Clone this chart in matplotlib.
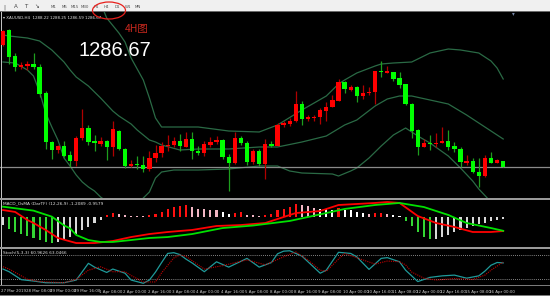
import matplotlib
matplotlib.use('Agg')
import matplotlib.pyplot as plt
from matplotlib.patches import Ellipse, Rectangle
from matplotlib.transforms import blended_transform_factory

# ---- XAUUSD H4 candles (27 Mar 16:00 .. 16 Apr 08:00) ----
opens = [1317.17, 1320.92, 1314.42, 1311.67, 1311.80, 1312.42, 1311.55, 1305.17, 1292.92, 1290.92,
         1291.92, 1289.55, 1288.05, 1293.80, 1296.42, 1293.05, 1292.42, 1293.17, 1291.55, 1295.67,
         1291.17, 1286.92, 1287.42, 1287.17, 1286.05, 1288.92, 1290.10, 1291.85, 1292.17, 1293.25,
         1291.75, 1293.67, 1290.60, 1290.10, 1292.25, 1293.00, 1293.42, 1289.25, 1287.67, 1293.85,
         1292.67, 1287.85, 1290.75, 1287.42, 1292.42, 1292.00, 1297.17, 1297.42, 1298.10, 1302.42,
         1298.67, 1298.85, 1299.10, 1300.75, 1301.75, 1303.25, 1307.85, 1305.92, 1306.75, 1304.35,
         1305.10, 1305.50, 1310.75, 1310.25, 1310.42, 1308.85, 1307.35, 1302.42, 1295.92, 1291.75,
         1292.75, 1292.42, 1292.75, 1293.17, 1291.92, 1291.17, 1287.60, 1288.17, 1285.35, 1284.42,
         1288.85, 1287.75, 1288.22]
highs = [1320.92, 1321.17, 1315.17, 1312.92, 1313.17, 1315.17, 1312.42, 1305.67, 1293.17, 1292.17,
         1293.17, 1290.67, 1294.30, 1301.17, 1297.17, 1294.67, 1294.17, 1293.42, 1298.17, 1295.92,
         1291.42, 1288.30, 1289.42, 1289.42, 1290.67, 1292.05, 1292.92, 1294.67, 1294.25, 1294.92,
         1295.30, 1295.30, 1291.92, 1293.25, 1294.17, 1294.50, 1293.67, 1289.92, 1295.35, 1294.50,
         1293.25, 1291.17, 1291.17, 1293.67, 1293.17, 1297.60, 1298.25, 1298.92, 1305.60, 1303.10,
         1299.75, 1299.75, 1301.42, 1302.85, 1304.75, 1308.67, 1308.25, 1307.25, 1307.00, 1307.25,
         1306.75, 1310.75, 1313.25, 1311.80, 1310.50, 1310.50, 1307.42, 1302.60, 1296.10, 1293.60,
         1294.67, 1295.10, 1296.60, 1295.92, 1292.99, 1291.75, 1289.67, 1288.85, 1288.85, 1289.67,
         1290.35, 1288.67, 1288.25]
lows = [1316.92, 1312.42, 1310.67, 1311.17, 1310.92, 1311.17, 1304.17, 1291.17, 1288.67, 1290.17,
        1289.17, 1286.67, 1286.92, 1293.42, 1292.17, 1290.67, 1291.92, 1288.30, 1289.42, 1290.92,
        1286.42, 1286.55, 1286.17, 1285.42, 1285.67, 1287.92, 1289.17, 1290.67, 1291.75, 1290.75,
        1291.55, 1288.67, 1289.67, 1289.50, 1291.67, 1292.42, 1288.67, 1280.67, 1287.42, 1292.17,
        1287.25, 1287.42, 1287.00, 1283.67, 1291.67, 1291.92, 1296.60, 1297.00, 1297.85, 1297.25,
        1298.25, 1298.10, 1297.42, 1298.10, 1301.67, 1303.17, 1305.10, 1305.67, 1302.85, 1303.67,
        1304.67, 1302.42, 1309.25, 1310.17, 1308.25, 1306.50, 1302.17, 1293.85, 1289.67, 1291.67,
        1290.92, 1291.60, 1292.67, 1290.92, 1290.50, 1286.75, 1287.17, 1285.10, 1281.75, 1284.17,
        1287.67, 1287.55, 1286.59]
closes = [1320.67, 1314.17, 1311.67, 1312.05, 1312.42, 1311.67, 1304.92, 1292.92, 1290.92, 1291.92,
          1289.42, 1288.05, 1293.92, 1296.42, 1292.80, 1292.55, 1293.17, 1291.55, 1296.17, 1291.17,
          1286.92, 1287.42, 1287.17, 1286.17, 1288.92, 1290.17, 1292.00, 1292.17, 1293.25, 1291.80,
          1293.67, 1290.55, 1290.10, 1292.42, 1293.00, 1293.42, 1289.25, 1287.67, 1293.92, 1292.60,
          1287.85, 1290.75, 1287.42, 1292.42, 1292.00, 1297.17, 1297.60, 1298.10, 1302.42, 1298.67,
          1299.25, 1299.10, 1300.92, 1301.75, 1303.42, 1308.00, 1306.17, 1306.60, 1304.35, 1305.17,
          1305.50, 1310.60, 1310.35, 1310.50, 1308.67, 1307.17, 1302.42, 1295.67, 1291.75, 1292.75,
          1292.35, 1292.75, 1293.17, 1291.60, 1291.17, 1287.85, 1288.17, 1285.35, 1284.42, 1288.85,
          1287.75, 1288.42, 1286.67]
last_price = 1286.67

# Bollinger bands, read at some bars
upper_idx = [0, 4, 8, 12, 15, 16, 17, 19, 20, 21, 23, 24, 25, 26, 28, 32, 37, 42, 45, 49, 53, 55, 56,
             58, 61, 62, 64, 67, 70, 73, 75, 78, 80, 81, 82]
upper_band = [1339.67, 1337.92, 1335.92, 1334.67, 1330.42, 1327.67, 1323.92, 1320.17, 1317.92, 1313.92,
              1308.42, 1303.92, 1298.92, 1296.67, 1296.67, 1296.67, 1295.67, 1295.42, 1297.17, 1300.92,
              1304.42, 1307.42, 1308.42, 1310.17, 1311.92, 1312.42, 1312.67, 1312.92, 1315.17, 1316.17,
              1315.92, 1315.17, 1313.17, 1311.42, 1308.67]
mid_idx = [0, 1, 4, 6, 8, 10, 11, 12, 14, 16, 18, 19, 21, 22, 24, 25, 26, 29, 32, 37, 42, 45, 49, 53,
           56, 58, 61, 63, 65, 67, 70, 73, 76, 79, 82]
mid_band = [1319.67, 1319.42, 1318.92, 1318.17, 1315.92, 1312.92, 1310.92, 1309.17, 1306.92, 1303.92,
            1300.67, 1299.42, 1297.42, 1295.92, 1293.42, 1292.92, 1292.17, 1290.92, 1291.17, 1291.17,
            1291.67, 1291.67, 1292.92, 1294.42, 1297.17, 1298.42, 1301.92, 1303.67, 1304.42, 1304.42,
            1303.42, 1302.42, 1299.67, 1296.67, 1293.67]
lower_idx = [0, 2, 4, 5, 6, 7, 8, 9, 10, 11, 12, 13, 14, 15, 16, 18, 20, 22, 24, 25, 26, 28, 32, 37,
             42, 45, 47, 49, 54, 55, 57, 58, 60, 62, 64, 66, 68, 70, 73, 75, 77, 78, 80, 82]
lower_band = [1312.92, 1312.67, 1310.92, 1309.42, 1305.42, 1300.17, 1296.67, 1293.42, 1288.92, 1286.92,
              1284.67, 1282.92, 1281.67, 1280.67, 1279.17, 1276.92, 1275.92, 1277.42, 1280.42, 1283.92,
              1285.42, 1285.92, 1285.92, 1286.17, 1286.92, 1286.92, 1285.67, 1285.17, 1284.92, 1284.42,
              1285.67, 1286.42, 1288.92, 1291.92, 1294.67, 1296.42, 1294.42, 1292.67, 1289.42, 1286.42,
              1283.17, 1281.17, 1277.92, 1274.67]

# MACD_OsMA histogram (one per bar) and the two lines
osma = [-0.67, -1.0, -1.25, -1.42, -1.58, -1.75, -1.92, -2.08, -2.17, -2.1,
        -1.92, -1.67, -1.42, -1.08, -0.83, -0.5, -0.25, 0.17, 0.33, 0.29,
        0.17, 0.12, 0.12, 0.08, 0.17, 0.25, 0.42, 0.67, 0.83, 0.92,
        1.0, 0.83, 0.69, 0.64, 0.61, 0.56, 0.42, 0.22, 0.36, 0.42,
        0.19, 0.14, 0.08, 0.19, 0.28, 0.56, 0.69, 0.83, 1.06, 0.97,
        0.89, 0.78, 0.69, 0.64, 0.56, 0.78, 0.56, 0.56, 0.42, 0.36,
        0.28, 0.33, 0.35, 0.28, 0.19, 0.11, -0.33, -0.78, -1.25, -1.67,
        -1.83, -1.81, -1.67, -1.53, -1.25, -1.06, -0.89, -0.75, -0.61, -0.47,
        -0.36, -0.28, -0.19]
macd_idx = [0, 2, 4, 5, 7, 9, 12, 15, 18, 21, 24, 27, 31, 35, 39, 43, 48, 52, 55, 61, 63, 65, 68, 71,
            74, 77, 80, 82]
macd_line = [0.58, 0.42, -0.25, -0.5, -1.08, -1.75, -2.17, -2.17, -2.0, -1.67, -1.42, -1.25, -1.08,
             -0.75, -0.67, -0.5, 0.33, 0.5, 1.0, 1.17, 1.25, 1.17, 0.08, -0.5, -0.83, -1.25, -1.25, -1.17]
signal_idx = [0, 5, 8, 10, 11, 12, 14, 16, 18, 21, 24, 27, 31, 36, 41, 47, 53, 56, 61, 65, 69, 73, 76,
              80, 82]
signal_line = [0.86, 0.53, 0.03, -0.7, -0.95, -1.5, -1.92, -2.08, -2.08, -1.92, -1.75, -1.67, -1.42,
               -0.92, -0.71, -0.33, 0.33, 0.67, 1.0, 1.17, 0.83, 0.17, -0.5, -0.92, -1.15]

# Stochastic (5,3,3)
stoch_k_idx = [0, 1, 3, 5, 7, 10, 12, 13, 14, 15, 17, 18, 20, 21, 23, 24, 25, 26, 27, 28, 29, 30, 31,
               33, 35, 37, 40, 42, 44, 45, 46, 47, 49, 50, 52, 53, 55, 57, 58, 60, 62, 63, 65, 66, 68,
               70, 72, 74, 76, 78, 79, 80, 81, 82]
stoch_k = [45.3, 38.5, 18.2, 14.8, 10.4, 10.4, 17.2, 38.5, 59.9, 50.2, 36.6, 45.3, 34.7, 17.2, 9.0,
           17.2, 37.6, 61.8, 85.1, 87.0, 82.2, 70.6, 60.9, 38.5, 63.8, 50.2, 72.5, 50.2, 61.8, 84.1,
           90.9, 91.9, 78.3, 63.8, 34.7, 42.4, 88.0, 85.1, 76.4, 44.4, 72.5, 74.4, 63.8, 42.4, 13.3,
           24.0, 27.9, 29.8, 22.0, 27.9, 40.0, 55.0, 62.0, 60.96]
stoch_d_idx = [0, 1, 4, 6, 10, 12, 14, 16, 18, 20, 21, 23, 25, 26, 28, 29, 30, 31, 33, 36, 40, 43, 46,
               48, 50, 52, 53, 55, 56, 59, 61, 63, 65, 66, 67, 69, 71, 74, 77, 79, 80, 82]
stoch_d = [51.2, 45.3, 19.2, 13.3, 10.4, 18.7, 42.4, 51.2, 38.5, 38.5, 28.9, 12.4, 12.4, 35.6, 73.5,
           81.2, 77.4, 66.7, 45.3, 54.0, 68.6, 56.0, 76.4, 89.0, 68.6, 42.4, 39.5, 70.6, 85.1, 68.6,
           58.0, 65.7, 63.8, 56.0, 37.6, 22.0, 17.2, 21.1, 18.7, 29.8, 42.4, 63.05]

time_label_idx = list(range(0, 81, 4))
time_labels = ['27 Mar 2019', '28 Mar 08:00', '29 Mar 00:00', '29 Mar 16:00', '1 Apr 08:00',
               '2 Apr 00:00', '2 Apr 16:00', '3 Apr 08:00', '4 Apr 00:00', '4 Apr 16:00',
               '5 Apr 08:00', '8 Apr 00:00', '8 Apr 16:00', '9 Apr 08:00', '10 Apr 00:00',
               '10 Apr 16:00', '11 Apr 08:00', '12 Apr 00:00', '12 Apr 16:00', '15 Apr 08:00',
               '16 Apr 00:00']
timeframes = ['M1', 'M5', 'M15', 'M30', 'H1', 'H4', 'D1', 'W1', 'MN']

W, H = 550, 296
BAR_PX = 6.1
XLIM = (-3 / BAR_PX, (W - 3) / BAR_PX)
TINY = ['Liberation Sans Narrow', 'DejaVu Sans']

plt.rcParams['font.family'] = ['DejaVu Sans']
fig = plt.figure(figsize=(W / 100, H / 100), dpi=100)
fig.patch.set_facecolor('black')


def rect(x0, y0, x1, y1):
    return [x0 / W, 1 - y1 / H, (x1 - x0) / W, (y1 - y0) / H]


def panel(y0, y1, ylim):
    ax = fig.add_axes(rect(0, y0, W, y1))
    ax.set_facecolor('black')
    ax.set_xlim(*XLIM)
    ax.set_ylim(*ylim)
    ax.set_xticks([])
    ax.set_yticks([])
    for s in ax.spines.values():
        s.set_visible(False)
    return ax


def fig_band(y0, y1, color, z=1):
    fig.patches.append(Rectangle((0, 1 - y1 / H), 1, (y1 - y0) / H, transform=fig.transFigure,
                                 facecolor=color, edgecolor='none', zorder=z))


# toolbar
fig_band(0, 11, '#f0f0f0')
fig_band(11, 12, '#6a6a6a')
for i, tf in enumerate(timeframes):
    fig.text((53.5 + 10.6 * i) / W, 1 - 8 / H, tf, fontsize=2.9, color='#505050', family=TINY,
             ha='center')
for x, s in [(3, '|'), (14, 'A'), (24, 'T'), (34, '\u2198')]:
    fig.text(x / W, 1 - 8 / H, s, fontsize=4, color='#404040')
fig.patches.append(Ellipse((109 / W, 1 - 10.5 / H), 33 / W, 17 / H, transform=fig.transFigure,
                           fill=False, edgecolor='#e8201c', linewidth=0.9, zorder=5))

# main price panel
ax = panel(12, 197.5, (1328.42 - 197.5 / 4, 1328.42 - 12 / 4))
for i in range(len(opens)):
    up = closes[i] >= opens[i]
    body = '#ff0000' if up else '#00ff00'
    wick = '#b00000' if up else '#1e9e1e'
    ax.vlines(i, lows[i], highs[i], color=wick, linewidth=0.9, zorder=2)
    lo = min(opens[i], closes[i])
    ax.bar(i, max(abs(closes[i] - opens[i]), 0.3), bottom=lo, width=0.7, color=body,
           linewidth=0, zorder=3)
for idx, vals in [(upper_idx, upper_band), (mid_idx, mid_band), (lower_idx, lower_band)]:
    ax.plot(idx, vals, color='#2a6a45', linewidth=0.9, zorder=1)
ax.axhline(last_price, color='#8a8a8a', linewidth=0.9, zorder=1)
ax.axvline(XLIM[0] + 1 / BAR_PX, color='#c8c8c8', linewidth=0.7)

fig_band(197.5, 199.5, '#9a9a9a', z=2)
fig_band(247, 248.5, '#9a9a9a', z=2)

# MACD_OsMA panel
ax2 = panel(199.5, 247, (-2.5, (217 - 199.5) / 12))
light_falling = {36, 37, 52, 53, 54, 56, 57, 58, 59, 64, 65}
colors = []
for i, v in enumerate(osma):
    prev = osma[i - 1] if i > 0 else v
    if v >= 0:
        if v > prev:
            colors.append('#ff1010')
        else:
            colors.append('#ffffff' if i in light_falling else '#f2b6c4')
    else:
        colors.append('#33d633' if v < prev else '#d8d8d8')
ax2.bar(range(len(osma)), osma, width=0.33, color=colors, linewidth=0)
ax2.plot(macd_idx, macd_line, color='#ff0000', linewidth=1.3)
ax2.plot(signal_idx, signal_line, color='#00e000', linewidth=1.3)
ax2.axvline(XLIM[0] + 1 / BAR_PX, color='#c8c8c8', linewidth=0.7)

# Stochastic panel
ax3 = panel(248.5, 285, ((286.8 - 285) / 0.392, (286.8 - 248.5) / 0.392))
for lvl in (80, 20):
    ax3.axhline(lvl, color='#b0b0b0', linewidth=0.6, linestyle=(0, (1, 1.5)))
ax3.plot(stoch_k_idx, stoch_k, color='#1f9a9a', linewidth=0.9)
ax3.plot(stoch_d_idx, stoch_d, color='#c00000', linewidth=0.8, linestyle=(0, (1, 1)))
ax3.axvline(XLIM[0] + 1 / BAR_PX, color='#c8c8c8', linewidth=0.7)

# time axis
fig_band(285, 286, '#7a7a7a', z=2)
fig_band(295, 296, '#7a7a7a', z=2)
tr = blended_transform_factory(ax3.transData, fig.transFigure)
for i, lab in zip(time_label_idx, time_labels):
    fig.text(i - 0.3, 1 - 292.5 / H, lab, transform=tr, fontsize=2.9, color='#d0d0d0', family=TINY)

# labels inside panels
fig.text(3 / W, 1 - 19 / H, '\u25be XAUUSD,H4  1288.22 1288.25 1286.59 1286.67', fontsize=2.9,
         color='#e0e0e0', family=TINY)
fig.text(3 / W, 1 - 204 / H, 'MACD_OsMA (DarTF) (12,26,9) -1.2089 -0.9579', fontsize=3.1,
         color='#e0e0e0', family=TINY)
fig.text(3 / W, 1 - 253.5 / H, 'Stoch(5,3,3) 60.9626 63.0466', fontsize=3.1, color='#e0e0e0',
         family=TINY)
fig.text(512 / W, 1 - 15 / H, '\u25be', fontsize=4, color='#7888a8')

fig.text(125 / W, 1 - 32 / H, '4H图', fontsize=7.5, color='#c8281e',
         family=['Noto Sans CJK SC', 'DejaVu Sans'])
fig.text(79 / W, 1 - 55.5 / H, '1286.67', fontsize=14.5, color='white', family='Liberation Sans')

fig.savefig('out.png', dpi=100, facecolor=fig.get_facecolor())
